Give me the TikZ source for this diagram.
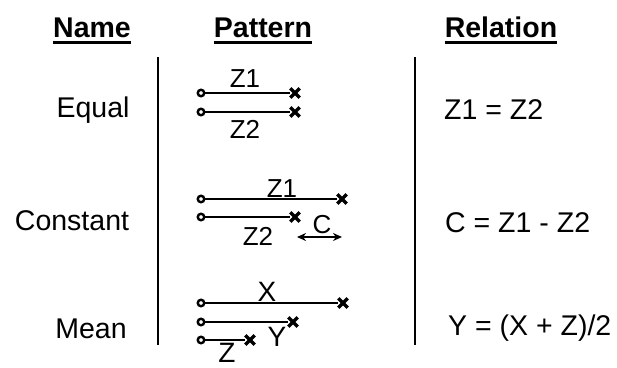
\documentclass[tikz,border=0pt]{standalone}
\usepackage{fontspec}
\setmainfont{Liberation Sans}
\usetikzlibrary{shapes.misc,arrows.meta}
\begin{document}
\begin{tikzpicture}[x=1pt,y=-1pt,
  hdr/.style={font=\fontsize{28.5}{28.5}\selectfont\bfseries,inner sep=0pt,anchor=base},
  body/.style={font=\fontsize{28.5}{28.5}\selectfont,inner sep=0pt,anchor=base},
  lbl/.style={font=\fontsize{26}{26}\selectfont,inner sep=0pt},
  lblb/.style={font=\fontsize{28}{28}\selectfont,inner sep=0pt},
  startpt/.style={circle,draw,line width=2.4pt,minimum size=6.5pt,inner sep=0pt},
  endpt/.style={cross out,draw,line width=3.4pt,minimum size=6pt,inner sep=0pt},
  seg/.style={line width=2.8pt},
  sep/.style={line width=1.3pt}]
\useasboundingbox (0,0) rectangle (617,367);
% headers
\node[hdr] (hname) at (92,37) {Name};
\node[hdr] (hpat) at (263,37) {Pattern};
\node[hdr] (hrel) at (501,37) {Relation};
\foreach \h in {hname,hpat,hrel}
  \draw[line width=2.2pt] ([yshift=-5pt]\h.south west) -- ([yshift=-5pt]\h.south east);
% separators
\coordinate (s1t) at (158,57); \coordinate (s1b) at (158,345);
\coordinate (s2t) at (415,57); \coordinate (s2b) at (415,345);
\draw[sep] (s1t) -- (s1b);
\draw[sep] (s2t) -- (s2b);
% names
\node[body] (nequal) at (93,117) {Equal};
\node[body] (nconst) at (72,230) {Constant};
\node[body] (nmean) at (91,338) {Mean};
% relations
\node[body,anchor=base west] (requal) at (444,119) {Z1 = Z2};
\node[body,anchor=base west] (rconst) at (445,232) {C = Z1 - Z2};
\node[body,anchor=base west] (rmean) at (448,335) {Y = (X + Z)/2};
% Equal pattern
\node[startpt] (ea1) at (201,93) {};
\node[endpt] (eb1) at (295,93) {};
\node[startpt] (ea2) at (201,112) {};
\node[endpt] (eb2) at (295,112) {};
\draw[seg] (ea1) -- (eb1);
\draw[seg] (ea2) -- (eb2);
\node[lbl] (ez1) at (245,79) {Z1};
\node[lbl] (ez2) at (245,129) {Z2};
% Constant pattern
\node[startpt] (ca1) at (201,199) {};
\node[endpt] (cb1) at (342,199) {};
\node[startpt] (ca2) at (201,217) {};
\node[endpt] (cb2) at (295,217) {};
\draw[seg] (ca1) -- (cb1);
\draw[seg] (ca2) -- (cb2);
\node[lbl] (cz1) at (282,189) {Z1};
\node[lbl] (cz2) at (258,236) {Z2};
\node[lbl] (cc) at (322,225) {C};
\coordinate (cl) at (297,237);
\coordinate (cr) at (342,237);
\draw[line width=2.2pt,{Stealth[length=9pt,width=8pt]}-{Stealth[length=9pt,width=8pt]}] (cl) -- (cr);
% Mean pattern
\node[startpt] (ma1) at (201,303) {};
\node[endpt] (mb1) at (343,303) {};
\node[startpt] (ma2) at (201,322) {};
\node[endpt] (mb2) at (293,322) {};
\node[startpt] (ma3) at (201,340) {};
\node[endpt] (mb3) at (250,340) {};
\draw[seg] (ma1) -- (mb1);
\draw[seg] (ma2) -- (mb2);
\draw[seg] (ma3) -- (mb3);
\node[lblb] (mx) at (267,292) {X};
\node[lblb] (my) at (277,337) {Y};
\node[lblb] (mz) at (227,353) {Z};
\end{tikzpicture}
\end{document}
